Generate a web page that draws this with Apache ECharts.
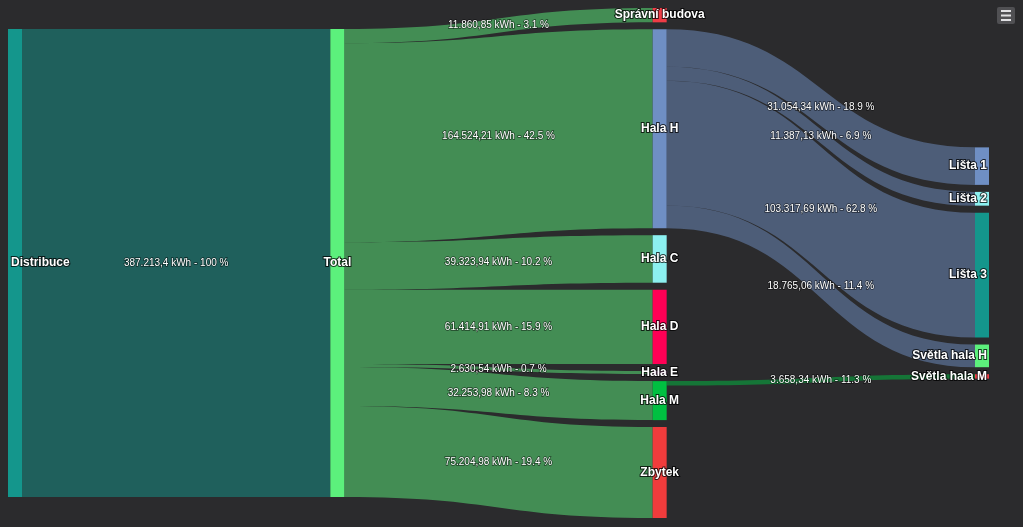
<!DOCTYPE html>
<html>
<head>
<meta charset="utf-8">
<script src="https://cdn.jsdelivr.net/npm/echarts@6/dist/echarts.min.js"></script>
<style>
  html, body { margin: 0; padding: 0; background: #2b2b2d; }
  #chart { width: 1023px; height: 527px; }
</style>
</head>
<body>
<div id="chart"></div>
<script>
// ---- data ----
const nodeNames = ['Distribuce', 'Total', 'Správní budova', 'Hala H', 'Hala C', 'Hala D', 'Hala E', 'Hala M', 'Zbytek',
  'Lišta 1', 'Lišta 2', 'Lišta 3', 'Světla hala H', 'Světla hala M'];
const linkSources = ['Distribuce', 'Total', 'Total', 'Total', 'Total', 'Total', 'Total', 'Total',
  'Hala H', 'Hala H', 'Hala H', 'Hala H', 'Hala M'];
const linkTargets = ['Total', 'Správní budova', 'Hala H', 'Hala C', 'Hala D', 'Hala E', 'Hala M', 'Zbytek',
  'Lišta 1', 'Lišta 2', 'Lišta 3', 'Světla hala H', 'Světla hala M'];
const linkValues = [387213.4, 11860.85, 164524.21, 39323.94, 61414.91, 2630.54, 32253.98, 75204.98,
  31054.34, 11387.13, 103317.69, 18765.06, 3658.34];

// ---- styles ----
const nodeColors = ['#14968c', '#5cf07c', '#f03c46', '#6f8fc4', '#8cf0f0', '#ff0055', '#eeaaee', '#00c041', '#f03c3c',
  '#6f8fc4', '#8cf0f0', '#14968c', '#5cf07c', '#f03c46'];
const BG = '#2b2b2d';
const HGT = 527;
const L = 8, T = 8, R = 34, B = 9;
const NODE_W = 14, GAP = 7;

// ---- derived ----
function nodeValue(name) {
  let out = 0, inn = 0;
  linkSources.forEach((s, i) => { if (s === name) out += linkValues[i]; });
  linkTargets.forEach((t, i) => { if (t === name) inn += linkValues[i]; });
  return Math.max(out, inn);
}
const depth = {};
nodeNames.forEach(n => depth[n] = 0);
for (let k = 0; k < nodeNames.length; k++) {
  linkSources.forEach((s, i) => { depth[linkTargets[i]] = Math.max(depth[linkTargets[i]], depth[s] + 1); });
}
const maxDepth = Math.max.apply(null, nodeNames.map(n => depth[n]));
const columns = [];
nodeNames.forEach(n => { (columns[depth[n]] = columns[depth[n]] || []).push(n); });
const H = HGT - T - B;
let ky = Infinity;
columns.forEach(col => {
  const sum = col.reduce((a, n) => a + nodeValue(n), 0);
  ky = Math.min(ky, (H - (col.length - 1) * GAP) / sum);
});
// center every column vertically
const localY = {};
columns.forEach(col => {
  const total = col.reduce((a, n) => a + nodeValue(n) * ky, 0) + (col.length - 1) * GAP;
  let y = (H - total) / 2;
  col.forEach(n => { localY[n] = y / H; y += nodeValue(n) * ky + GAP; });
});

function fmtNum(v) {
  const parts = String(v).split('.');
  const ip = parts[0].replace(/\B(?=(\d{3})+(?!\d))/g, '.');
  return parts[1] ? ip + ',' + parts[1] : ip;
}

const nodes = nodeNames.map((n, i) => {
  const d = depth[n];
  const pos = d === 0 ? 'insideLeft' : (d === maxDepth ? 'insideRight' : 'inside');
  return {
    name: n,
    localY: localY[n],
    itemStyle: { color: nodeColors[i] },
    label: { position: pos, distance: d === 0 ? 3 : 2 }
  };
});
const links = linkValues.map((v, i) => ({ source: linkSources[i], target: linkTargets[i], value: v }));

const chart = echarts.init(document.getElementById('chart'), null, { renderer: 'canvas' });
chart.setOption({
  backgroundColor: BG,
  animation: false,
  series: [{
    type: 'sankey',
    left: L, top: T, right: R, bottom: B,
    nodeWidth: NODE_W,
    nodeGap: GAP,
    nodeAlign: 'left',
    layoutIterations: 0,
    draggable: false,
    emphasis: { disabled: true },
    data: nodes,
    links: links,
    itemStyle: { borderWidth: 0 },
    lineStyle: { color: 'source', opacity: 0.5, curveness: 0.5 },
    label: {
      show: true,
      position: 'inside',
      color: '#ffffff',
      fontFamily: '"Liberation Sans", Arial, sans-serif',
      fontSize: 12,
      fontWeight: 'bold',
      textBorderColor: 'rgba(0,0,0,0.75)',
      textBorderWidth: 2
    },
    edgeLabel: {
      show: true,
      color: '#ffffff',
      fontFamily: '"Liberation Sans", Arial, sans-serif',
      fontSize: 10,
      textBorderColor: 'rgba(0,0,0,0.55)',
      textBorderWidth: 1.5,
      formatter: function (p) {
        const v = p.data.value;
        const src = nodeValue(p.data.source);
        const pct = Math.round(v / src * 1000) / 10;
        return fmtNum(v) + ' kWh - ' + pct + ' %';
      }
    }
  }],
  graphic: [
    { type: 'rect', shape: { x: 997, y: 7, width: 18, height: 17, r: 2 }, style: { fill: '#505053' } },
    { type: 'line', shape: { x1: 1001, y1: 11, x2: 1011, y2: 11 }, style: { stroke: '#e0e0e3', lineWidth: 2 } },
    { type: 'line', shape: { x1: 1001, y1: 15.5, x2: 1011, y2: 15.5 }, style: { stroke: '#e0e0e3', lineWidth: 2 } },
    { type: 'line', shape: { x1: 1001, y1: 20, x2: 1011, y2: 20 }, style: { stroke: '#e0e0e3', lineWidth: 2 } }
  ]
});
</script>
</body>
</html>
